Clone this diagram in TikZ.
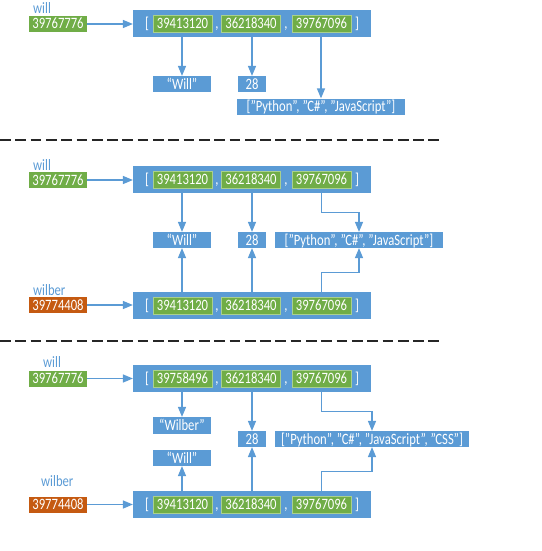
\documentclass[tikz,border=0pt]{standalone}
\usepackage{fontspec}
\setmainfont{Carlito}[FakeStretch=0.8]
\usepackage{tikz}
\usetikzlibrary{arrows}
\definecolor{boxblue}{HTML}{5B9BD5}
\definecolor{boxgreen}{HTML}{70AD47}
\definecolor{boxorange}{HTML}{C55A11}
\definecolor{rimgreen}{HTML}{A9D08E}
\tikzstyle{txt}=[font=\fontsize{15.8}{18}\selectfont,text=white,inner sep=0pt,text height=10pt,text depth=0pt]
\tikzstyle{var}=[txt,fill=boxgreen,minimum width=58pt,minimum height=16pt]
\tikzstyle{newvar}=[var,fill=boxorange]
\tikzstyle{listbox}=[fill=boxblue,minimum width=238pt,minimum height=27pt,inner sep=0pt]
\tikzstyle{addr}=[txt,fill=boxgreen,draw=rimgreen,line width=0.8pt,minimum width=59pt,minimum height=17pt]
\tikzstyle{obj}=[txt,fill=boxblue,minimum height=16pt]
\tikzstyle{varname}=[font=\fontsize{15.8}{18}\selectfont,text=boxblue,anchor=base west,inner sep=0pt]
\tikzstyle{arrow}=[->,>=triangle 45,draw=boxblue,line width=1.3pt]
\tikzstyle{cut}=[draw=black!85,line width=2pt,dash pattern=on 10.7pt off 4.6pt]

\begin{document}
\begin{tikzpicture}[x=1pt,y=-1pt]
      \useasboundingbox (0,0) rectangle (541,551);
      \node[varname] at (33,13.5) (n1) {will};
      \node[var] at (58,24) (v1) {39767776};
      \node[listbox] at (252,23.5) (l1) {};
      \node[txt] at (147,23.5) (b11) {[};
      \node[addr] at (182.5,23.5) (a11) {39413120};
      \node[txt] at (217,23.5) (c11) {,};
      \node[addr] at (251,23.5) (a12) {36218340};
      \node[txt] at (286,23.5) (c12) {,};
      \node[addr] at (321.5,23.5) (a13) {39767096};
      \node[txt] at (357,23.5) (b12) {]};
      \node[obj,minimum width=58pt] at (182,84) (s1) {“Will”};
      \node[obj,minimum width=28pt] at (252,84) (i1) {28};
      \node[obj,minimum width=168pt] at (321,106.5) (p1) {["Python", "C\#", "JavaScript"]};
      \draw[arrow] (v1) -- (v1 -| l1.west);
      \draw[arrow] (s1 |- l1.south) -- (s1);
      \draw[arrow] (i1 |- l1.south) -- (i1);
      \draw[arrow] (p1 |- l1.south) -- (p1);

      \draw[cut] (0,140) -- (442,140);

      \node[varname] at (33,170) (n2) {will};
      \node[var] at (58,180) (v2) {39767776};
      \node[listbox] at (252,179.5) (l2) {};
      \node[txt] at (147,179.5) (b21) {[};
      \node[addr] at (182.5,179.5) (a21) {39413120};
      \node[txt] at (217,179.5) (c21) {,};
      \node[addr] at (251,179.5) (a22) {36218340};
      \node[txt] at (286,179.5) (c22) {,};
      \node[addr] at (321.5,179.5) (a23) {39767096};
      \node[txt] at (357,179.5) (b22) {]};
      \node[obj,minimum width=58pt] at (182,240) (s2) {“Will”};
      \node[obj,minimum width=28pt] at (252,240) (i2) {28};
      \node[obj,minimum width=168pt] at (359,240) (p2) {["Python", "C\#", "JavaScript"]};
      \node[varname] at (33,295) (n3) {wilber};
      \node[newvar] at (58,305) (v3) {39774408};
      \node[listbox] at (252,305.5) (l3) {};
      \node[txt] at (147,305.5) (b31) {[};
      \node[addr] at (182.5,305.5) (a31) {39413120};
      \node[txt] at (217,305.5) (c31) {,};
      \node[addr] at (251,305.5) (a32) {36218340};
      \node[txt] at (286,305.5) (c32) {,};
      \node[addr] at (321.5,305.5) (a33) {39767096};
      \node[txt] at (357,305.5) (b32) {]};
      \draw[arrow] (v2) -- (v2 -| l2.west);
      \draw[arrow] (s2 |- l2.south) -- (s2);
      \draw[arrow] (i2 |- l2.south) -- (i2);
      \draw[arrow] (a23 |- l2.south) -- ++(0,19) -| (p2);
      \draw[arrow] (v3) -- (v3 -| l3.west);
      \draw[arrow] (s2 |- l3.north) -- (s2);
      \draw[arrow] (i2 |- l3.north) -- (i2);
      \draw[arrow] (a33 |- l3.north) -- ++(0,-19) -| (p2);

      \draw[cut] (0,341) -- (440,341);

      \node[varname] at (43,367) (n4) {will};
      \node[var] at (58,378.5) (v4) {39767776};
      \node[listbox] at (252,378.5) (l4) {};
      \node[txt] at (147,378.5) (b41) {[};
      \node[addr] at (182.5,378.5) (a41) {39758496};
      \node[txt] at (217,378.5) (c41) {,};
      \node[addr] at (251,378.5) (a42) {36218340};
      \node[txt] at (286,378.5) (c42) {,};
      \node[addr] at (321.5,378.5) (a43) {39767096};
      \node[txt] at (357,378.5) (b42) {]};
      \node[obj,minimum width=58pt,minimum height=17pt] at (182,425.5) (s4) {“Wilber”};
      \node[obj,minimum width=28pt] at (252,439) (i4) {28};
      \node[obj,minimum width=194pt] at (372,439) (p4) {["Python", "C\#", "JavaScript", "CSS"]};
      \node[obj,minimum width=58pt] at (182,458) (w4) {“Will”};
      \node[varname] at (41,486) (n5) {wilber};
      \node[newvar] at (58,504.5) (v5) {39774408};
      \node[listbox] at (252,504.5) (l5) {};
      \node[txt] at (147,504.5) (b51) {[};
      \node[addr] at (182.5,504.5) (a51) {39413120};
      \node[txt] at (217,504.5) (c51) {,};
      \node[addr] at (251,504.5) (a52) {36218340};
      \node[txt] at (286,504.5) (c52) {,};
      \node[addr] at (321.5,504.5) (a53) {39767096};
      \node[txt] at (357,504.5) (b52) {]};
      \draw[arrow] (v4) -- (v4 -| l4.west);
      \draw[arrow] (s4 |- l4.south) -- (s4);
      \draw[arrow] (i4 |- l4.south) -- (i4);
      \draw[arrow] (a43 |- l4.south) -- ++(0,19) -| (p4);
      \draw[arrow] (v5) -- (v5 -| l5.west);
      \draw[arrow] (w4 |- l5.north) -- (w4);
      \draw[arrow] (i4 |- l5.north) -- (i4);
      \draw[arrow] (a53 |- l5.north) -- ++(0,-19) -| (p4);
\end{tikzpicture}
\end{document}
